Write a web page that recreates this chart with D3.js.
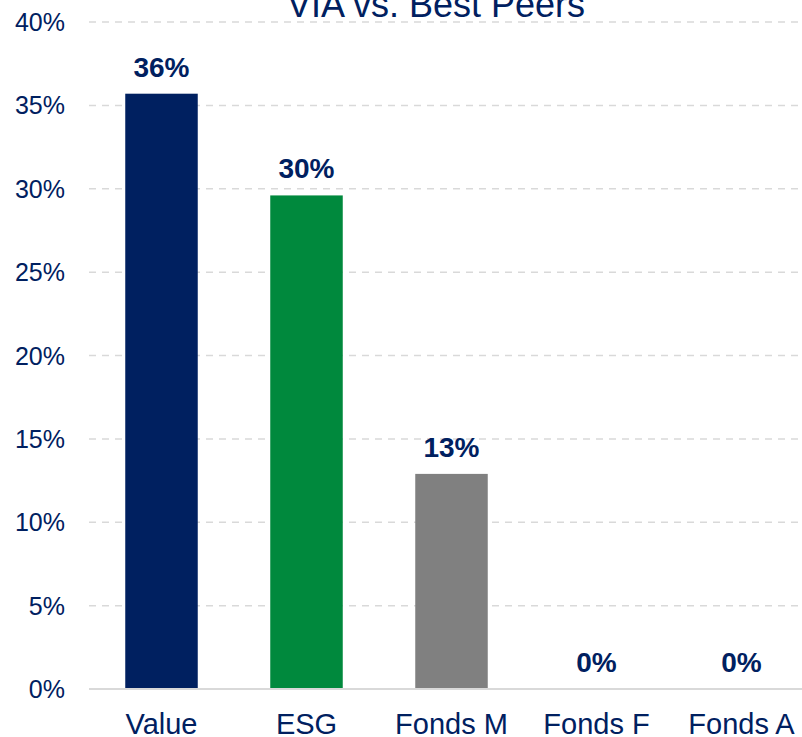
<!DOCTYPE html>
<html>
<head>
<meta charset="utf-8">
<title>VIA vs. Best Peers</title>
<script src="https://d3js.org/d3.v7.min.js"></script>
<style>
  body { margin: 0; background: #fff; }
  svg { display: block; font-family: "Liberation Sans", Arial, sans-serif; }
</style>
</head>
<body>
<div id="chart"></div>
<script>
// data
var categories = ["Value", "ESG", "Fonds M", "Fonds F", "Fonds A"];
var values = [35.7, 29.6, 12.9, 0, 0];
var barColors = ["#002060", "#00893D", "#808080", "#808080", "#808080"];
var yTicks = [0, 5, 10, 15, 20, 25, 30, 35, 40];
var title = "VIA vs. Best Peers";

var w = 802, h = 737;
var navy = "#002060";

var svg = d3.select("#chart").append("svg")
  .attr("width", w)
  .attr("height", h);

// scales
var x = d3.scaleBand()
  .domain(categories)
  .range([89, 814])
  .paddingInner(0.5)
  .paddingOuter(0.25);

var y = d3.scaleLinear()
  .domain([0, 40])
  .range([689, 22]);

// dashed gridlines
svg.append("g").selectAll("line")
  .data(yTicks.filter(function(d){ return d > 0; }))
  .enter().append("line")
  .attr("x1", 89).attr("x2", w)
  .attr("y1", function(d){ return y(d); })
  .attr("y2", function(d){ return y(d); })
  .attr("stroke", "#D9D9D9")
  .attr("stroke-width", 1.5)
  .attr("stroke-dasharray", "7,6");

// y tick labels
svg.append("g").selectAll("text")
  .data(yTicks)
  .enter().append("text")
  .attr("x", 65)
  .attr("y", function(d){ return y(d); })
  .attr("dy", "0.36em")
  .attr("text-anchor", "end")
  .attr("font-size", 25)
  .attr("fill", navy)
  .text(function(d){ return d + "%"; });

// bars
svg.append("g").selectAll("rect")
  .data(values)
  .enter().append("rect")
  .attr("x", function(d, i){ return x(categories[i]); })
  .attr("y", function(d){ return y(d); })
  .attr("width", x.bandwidth())
  .attr("height", function(d){ return y(0) - y(d); })
  .attr("fill", function(d, i){ return barColors[i]; });

// baseline
svg.append("line")
  .attr("x1", 89).attr("x2", w)
  .attr("y1", y(0)).attr("y2", y(0))
  .attr("stroke", "#D9D9D9")
  .attr("stroke-width", 2);

// value labels
svg.append("g").selectAll("text")
  .data(values)
  .enter().append("text")
  .attr("x", function(d, i){ return x(categories[i]) + x.bandwidth() / 2; })
  .attr("y", function(d){ return y(d) - 17; })
  .attr("text-anchor", "middle")
  .attr("font-size", 28)
  .attr("font-weight", "bold")
  .attr("fill", navy)
  .text(function(d){ return Math.round(d) + "%"; });

// category labels
svg.append("g").selectAll("text")
  .data(categories)
  .enter().append("text")
  .attr("x", function(d){ return x(d) + x.bandwidth() / 2; })
  .attr("y", 734)
  .attr("text-anchor", "middle")
  .attr("font-size", 29)
  .attr("fill", navy)
  .text(function(d){ return d; });

// title (clipped at the top, like the original)
svg.append("text")
  .attr("x", 436)
  .attr("y", 17)
  .attr("text-anchor", "middle")
  .attr("font-size", 36)
  .attr("fill", navy)
  .text(title);
</script>
</body>
</html>
